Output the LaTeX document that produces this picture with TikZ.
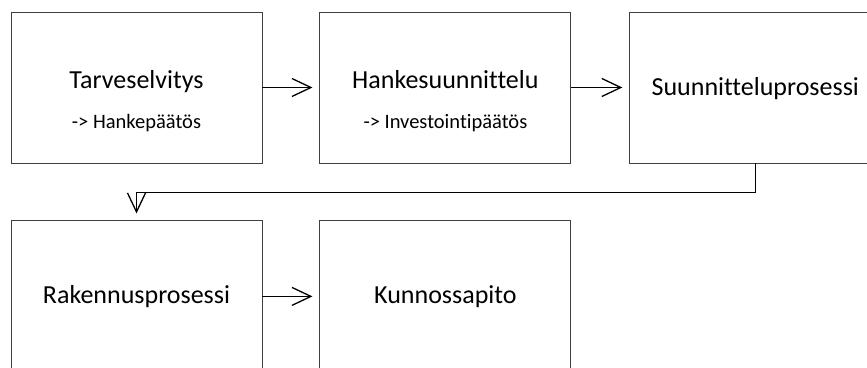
\documentclass[tikz,border=0pt]{standalone}
\usepackage{fontspec}
\setmainfont{Carlito}[Ligatures={NoCommon}]
\usetikzlibrary{positioning,arrows.meta}

\tikzset{
  vaihe/.style={draw=black!75, line width=0.9pt, rectangle, minimum width=251pt, minimum height=151pt, inner sep=0pt},
  otsikko/.style={anchor=base, inner sep=0pt, font=\fontsize{26}{31}\selectfont},
  alaotsikko/.style={anchor=base, inner sep=0pt, font=\fontsize{20.5}{25}\selectfont},
  nuoli/.style={draw=black, line width=1.3pt, -{Straight Barb[length=19pt,width=18pt]}, shorten >=7pt}
}

\begin{document}
\begin{tikzpicture}[x=1pt, y=1pt, node distance=57pt]
  \useasboundingbox (0,0) rectangle (867,367);

  \node[vaihe] (tarve) at (136.5, 279.5) {};
  \node[vaihe, right=57pt of tarve] (hanke) {};
  \node[vaihe, right=58pt of hanke] (suunn) {};
  \node[vaihe, below=57pt of tarve] (raken) {};
  \node[vaihe, right=57pt of raken] (kunno) {};

  \node[otsikko] (tarvet) at ([yshift=-77pt]tarve.north) {Tarveselvitys};
  \node[alaotsikko] (tarvea) at ([yshift=-117pt]tarve.north) {-> Hankepäätös};
  \node[otsikko] (hanket) at ([yshift=-77pt]hanke.north) {Hankesuunnittelu};
  \node[alaotsikko] (hankea) at ([yshift=-117pt]hanke.north) {-> Investointipäätös};
  \node[otsikko] (suunnt) at ([yshift=-84pt]suunn.north) {Suunnitteluprosessi};
  \node[otsikko] (rakent) at ([yshift=-83pt]raken.north) {Rakennusprosessi};
  \node[otsikko] (kunnot) at ([yshift=-83pt]kunno.north) {Kunnossapito};

  \draw[nuoli] (tarve) -- (hanke);
  \draw[nuoli] (hanke) -- (suunn);
  \draw[nuoli] (suunn.south) -- ++(0,-29pt) -| (raken.north);
  \draw[nuoli] (raken.east |- kunno) -- (kunno);
\end{tikzpicture}
\end{document}
